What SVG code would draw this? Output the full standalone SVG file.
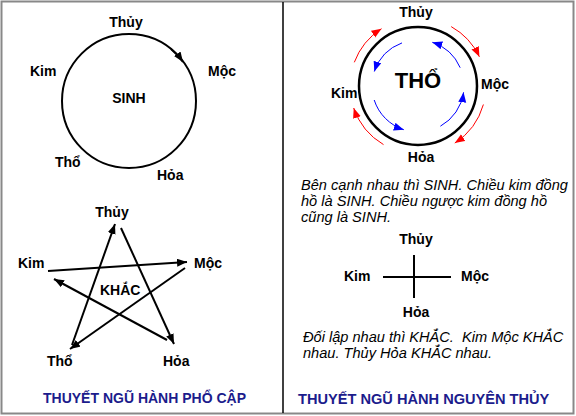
<svg xmlns="http://www.w3.org/2000/svg" width="576" height="416" viewBox="0 0 576 416">
<defs>
<style>
.lbl{font-family:"Liberation Sans",Arial,sans-serif;font-weight:bold;font-size:14px;fill:#000}
.it{font-family:"Liberation Sans",Arial,sans-serif;font-style:italic;font-size:14.6px;fill:#000}
.ttl{font-family:"Liberation Sans",Arial,sans-serif;font-weight:bold;font-size:14px;fill:#1c1c8c}
.blk{fill:none;stroke:#000;stroke-width:2}
.red{fill:none;stroke:#ff0000;stroke-width:1}
.blue{fill:none;stroke:#0000ff;stroke-width:1}
</style>
<marker id="ab" markerUnits="userSpaceOnUse" markerWidth="12" markerHeight="10" refX="10" refY="4" orient="auto"><path d="M0,0 L10,4 L0,8 Z" fill="#000"/></marker>
<marker id="ar" markerUnits="userSpaceOnUse" markerWidth="12" markerHeight="10" refX="10" refY="4" orient="auto"><path d="M0,0 L10,4 L0,8 Z" fill="#ff0000"/></marker>
<marker id="au" markerUnits="userSpaceOnUse" markerWidth="12" markerHeight="10" refX="10" refY="4" orient="auto"><path d="M0,0 L10,4 L0,8 Z" fill="#0000ff"/></marker>
</defs>
<rect width="576" height="416" fill="#fff"/>
<rect x="1.5" y="1.5" width="572" height="412" fill="none" stroke="#888" stroke-width="2"/>
<line x1="283" y1="2" x2="283" y2="413" stroke="#000" stroke-width="1.5"/>

<g id="connectors">
<circle cx="129" cy="101" r="67" class="blk"/>
<path d="M171,49 A67,67 0 0 1 183,62" class="blk" marker-end="url(#ab)"/>
<line x1="121" y1="228" x2="174" y2="344" class="blk" marker-end="url(#ab)"/>
<line x1="167" y1="340" x2="54" y2="279" class="blk" marker-end="url(#ab)"/>
<line x1="48" y1="271" x2="187" y2="262" class="blk" marker-end="url(#ab)"/>
<line x1="185" y1="268" x2="70" y2="349" class="blk" marker-end="url(#ab)"/>
<line x1="72" y1="345" x2="115" y2="224" class="blk" marker-end="url(#ab)"/>
<circle cx="418" cy="86" r="59" fill="none" stroke="#000" stroke-width="2.5"/>
<path d="M354.3,62.3 A68,68 0 0 1 381.5,28.7" class="red" marker-end="url(#ar)"/>
<path d="M451.2,26.6 A68,68 0 0 1 479.4,56.8" class="red" marker-end="url(#ar)"/>
<path d="M483.4,104.5 A68,68 0 0 1 454.8,143.1" class="red" marker-end="url(#ar)"/>
<path d="M383.5,144.6 A68,68 0 0 1 353.7,108" class="red" marker-end="url(#ar)"/>
<path d="M402,42.9 A46,46 0 0 0 374.3,71.5" class="blue" marker-end="url(#au)"/>
<path d="M374.2,100 A46,46 0 0 0 403.8,129.7" class="blue" marker-end="url(#au)"/>
<path d="M440.4,126.2 A46,46 0 0 0 463.6,92.3" class="blue" marker-end="url(#au)"/>
<path d="M460.2,67.7 A46,46 0 0 0 432.3,42.3" class="blue" marker-end="url(#au)"/>
<line x1="414" y1="255" x2="414" y2="298" stroke="#000" stroke-width="2"/>
<line x1="383" y1="277" x2="451" y2="277" stroke="#000" stroke-width="2"/>
</g>

<g id="sinh-left">
<text x="126" y="27" class="lbl" text-anchor="middle">Thủy</text>
<text x="30" y="76" class="lbl">Kim</text>
<text x="208" y="76" class="lbl">Mộc</text>
<text x="129" y="103" class="lbl" text-anchor="middle">SINH</text>
<text x="55" y="167" class="lbl">Thổ</text>
<text x="157" y="180" class="lbl">Hỏa</text>
</g>

<g id="khac-left">
<text x="112" y="217" class="lbl" text-anchor="middle">Thủy</text>
<text x="18" y="268" class="lbl">Kim</text>
<text x="194" y="268" class="lbl">Mộc</text>
<text x="100" y="295" class="lbl">KHẮC</text>
<text x="47" y="366" class="lbl">Thổ</text>
<text x="163" y="366" class="lbl">Hỏa</text>
</g>

<g id="title-left">
<text x="43" y="403" class="ttl">THUYẾT NGŨ HÀNH PHỔ CẬP</text>
</g>

<g id="circle-right">
<text x="416" y="17" class="lbl" text-anchor="middle">Thủy</text>
<text x="331" y="98" class="lbl">Kim</text>
<text x="481" y="89" class="lbl">Mộc</text>
<text x="421" y="162" class="lbl" text-anchor="middle">Hỏa</text>
<text x="418" y="88" class="lbl" text-anchor="middle" style="font-size:22px">THỔ</text>
</g>

<g id="text-sinh">
<text class="it"><tspan x="301" y="190">Bên cạnh nhau thì SINH. Chiều kim đồng</tspan><tspan x="301" y="206">hồ là SINH. Chiều ngược kim đồng hồ</tspan><tspan x="301" y="222">cũng là SINH.</tspan></text>
</g>

<g id="cross-right">
<text x="416" y="244" class="lbl" text-anchor="middle">Thủy</text>
<text x="344" y="281" class="lbl">Kim</text>
<text x="461" y="281" class="lbl">Mộc</text>
<text x="416" y="317" class="lbl" text-anchor="middle">Hỏa</text>
</g>

<g id="text-khac">
<text class="it" xml:space="preserve"><tspan x="303" y="342">Đối lập nhau thì KHẮC.  Kim Mộc KHẮC</tspan><tspan x="303" y="358">nhau. Thủy Hỏa KHẮC nhau.</tspan></text>
</g>

<g id="title-right">
<text x="298" y="404" class="ttl" style="font-size:14.6px">THUYẾT NGŨ HÀNH NGUYÊN THỦY</text>
</g>
</svg>
